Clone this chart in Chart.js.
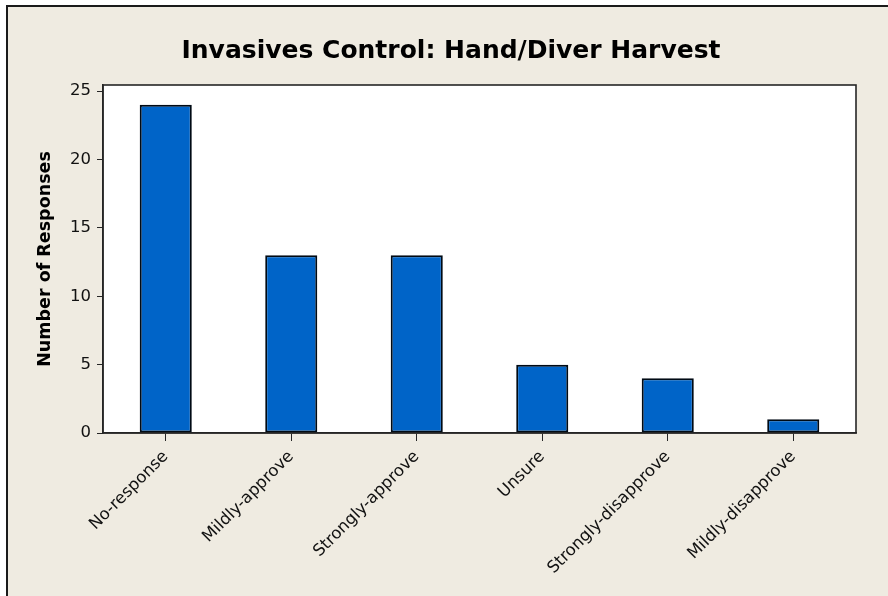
<!DOCTYPE html>
<html>
<head>
<meta charset="utf-8">
<script src="https://cdn.jsdelivr.net/npm/chart.js@4.4.1/dist/chart.umd.min.js"></script>
<style>
  html, body { margin: 0; padding: 0; background: #ffffff; width: 888px; height: 596px; overflow: hidden; }
  #cv { position: absolute; left: 0; top: 0; width: 888px; height: 596px; }
</style>
</head>
<body>
<canvas id="cv" width="888" height="596"></canvas>
<script>
const categories = ["No-response", "Mildly-approve", "Strongly-approve", "Unsure", "Strongly-disapprove", "Mildly-disapprove"];
const responses = [24, 13, 13, 5, 4, 1];
const yTicks = [0, 5, 10, 15, 20, 25];
const chartTitle = "Invasives Control: Hand/Diver Harvest";
const yTitle = "Number of Responses";

const plotFrame = {
  id: 'plotFrame',
  beforeDraw(chart) {
    const {ctx, chartArea: a, width, height} = chart;
    ctx.save();
    ctx.fillStyle = '#ffffff';
    ctx.fillRect(0, 0, width, height);
    ctx.fillStyle = '#efebe1';
    ctx.fillRect(6, 5, width - 6, height - 5);
    ctx.fillStyle = '#1a1a1a';
    ctx.fillRect(6, 5, 2, height - 5);
    ctx.fillRect(6, 5, width - 6, 2);
    ctx.fillStyle = '#ffffff';
    ctx.fillRect(a.left, a.top, a.right - a.left, a.bottom - a.top);
    ctx.restore();
  },
  afterDraw(chart) {
    const {ctx, chartArea: a} = chart;
    ctx.save();
    ctx.strokeStyle = '#262626';
    ctx.lineWidth = 1.6;
    ctx.strokeRect(a.left, a.top, a.right - a.left, a.bottom - a.top);
    ctx.restore();
  }
};

new Chart(document.getElementById('cv'), {
  type: 'bar',
  data: {
    labels: categories,
    datasets: [{
      data: responses,
      backgroundColor: '#0064c8',
      borderColor: '#000a14',
      borderWidth: 2,
      borderSkipped: false,
      barPercentage: 0.415,
      categoryPercentage: 1.0
    }]
  },
  options: {
    responsive: false,
    animation: false,
    devicePixelRatio: 1,
    layout: { padding: { left: 46, right: 32, top: 0, bottom: 0 } },
    plugins: {
      legend: { display: false },
      tooltip: { enabled: false },
      title: {
        display: true,
        text: chartTitle,
        color: '#000000',
        font: { family: 'DejaVu Sans', size: 25, weight: 'bold' },
        padding: { top: 36, bottom: 19 }
      }
    },
    scales: {
      x: {
        grid: { display: true, drawOnChartArea: false, drawTicks: true, tickLength: 8, color: '#262626', offset: false },
        border: { display: true, color: '#262626', width: 1.6 },
        ticks: {
          color: '#111111',
          font: { family: 'DejaVu Sans', size: 16.5 },
          maxRotation: 45,
          minRotation: 45,
          padding: 6,
          autoSkip: false
        },
        afterFit(scale) { scale.height = 163; }
      },
      y: {
        min: 0,
        max: 25.45,
        afterBuildTicks(scale) { scale.ticks = yTicks.map(v => ({ value: v })); },
        grid: { display: true, drawOnChartArea: false, drawTicks: true, tickLength: 6, color: '#262626' },
        border: { display: true, color: '#262626', width: 1.6 },
        ticks: {
          color: '#111111',
          font: { family: 'DejaVu Sans', size: 16.5 },
          padding: 6
        },
        title: {
          display: true,
          text: yTitle,
          color: '#000000',
          font: { family: 'DejaVu Sans', size: 17.5, weight: 'bold' },
          padding: { top: -11.5, bottom: 0 }
        },
        afterFit(scale) { scale.width = 57; }
      }
    }
  },
  plugins: [plotFrame]
});
</script>
</body>
</html>
